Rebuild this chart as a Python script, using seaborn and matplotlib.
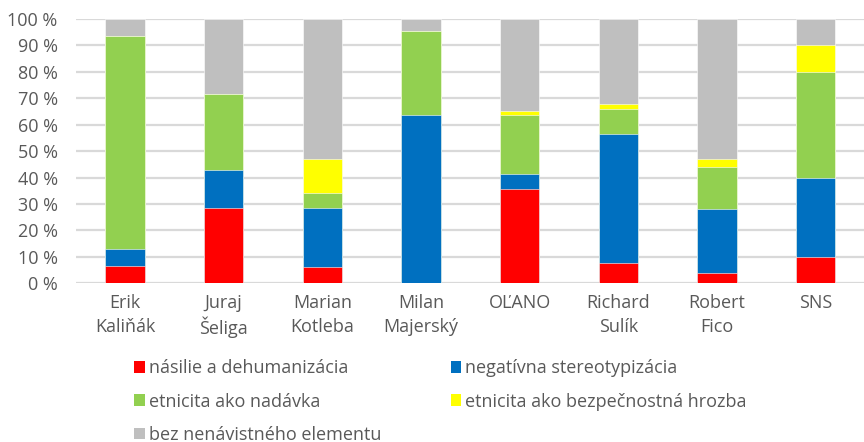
import pandas as pd
import matplotlib.pyplot as plt
import matplotlib.transforms as mtransforms
import seaborn as sns
from matplotlib.patches import Patch

# data (shares in %)
first_line = ["Erik", "Juraj", "Marian", "Milan", "OĽANO", "Richard", "Robert", "SNS"]
second_line = ["Kaliňák", "Šeliga", "Kotleba", "Majerský", "", "Sulík", "Fico", ""]
nasilie = [6.5, 28.6, 6.3, 0.0, 35.7, 7.6, 3.8, 10.0]
stereotyp = [6.6, 14.3, 22.3, 63.6, 5.8, 49.0, 24.2, 30.0]
nadavka = [80.3, 28.6, 5.7, 32.0, 22.3, 9.5, 15.9, 40.0]
hrozba = [0.0, 0.0, 12.7, 0.0, 1.4, 1.9, 3.1, 10.0]
bez = [6.6, 28.5, 53.0, 4.4, 34.8, 32.0, 53.0, 10.0]

series = ["násilie a dehumanizácia", "negatívna stereotypizácia", "etnicita ako nadávka",
          "etnicita ako bezpečnostná hrozba", "bez nenávistného elementu"]
colors = ["#ff0000", "#0070c0", "#92d050", "#ffff00", "#bfbfbf"]

df = pd.DataFrame({"osoba": first_line, series[0]: nasilie, series[1]: stereotyp,
                   series[2]: nadavka, series[3]: hrozba, series[4]: bez})
cum = df[series].cumsum(axis=1)
cum["osoba"] = df["osoba"]

sns.set_style("white")
plt.rcParams["font.family"] = ["Open Sans", "DejaVu Sans"]
txt = "#595959"
fs = 13

fig = plt.figure(figsize=(8.64, 4.42), dpi=100)
ax = fig.add_axes([75.7 / 864, (442 - 283.3) / 442, (865 - 75.7) / 864, (283.3 - 19) / 442])

# stacked bars: draw cumulative totals from top layer down
for name, col in reversed(list(zip(series, colors))):
    sns.barplot(data=cum, x="osoba", y=name, color=col, width=0.4, ax=ax,
                saturation=1, edgecolor="white", linewidth=0.4, zorder=3)

ax.set_ylim(0, 100)
ax.set_yticks(range(0, 101, 10))
ax.set_yticklabels([f"{v} %" for v in range(0, 101, 10)])
ax.set_xlabel("")
ax.set_ylabel("")
ax.grid(axis="y", color="#d9d9d9", linewidth=1.6, zorder=0)
ax.set_axisbelow(True)
for s in ax.spines.values():
    s.set_visible(False)
ax.tick_params(axis="both", length=0, labelsize=fs, colors=txt)
ax.tick_params(axis="y", pad=13)
ax.tick_params(axis="x", pad=8)

# second line of the category names
trans = mtransforms.blended_transform_factory(ax.transData, fig.transFigure)
for i, name in enumerate(second_line):
    ax.text(i, 1 - 327 / 442, name, transform=trans, ha="center", va="center",
            fontsize=fs, color=txt)

# legend filled row by row
order = [0, 2, 4, 1, 3]
handles = [Patch(facecolor=colors[i], edgecolor="none") for i in order]
labels = [series[i] for i in order]
fig.legend(handles, labels, loc="upper left", bbox_to_anchor=(127 / 864, 1 - 352 / 442),
           ncol=2, frameon=False, fontsize=fs, labelcolor=txt,
           handlelength=0.6, handleheight=0.6, handletextpad=0.2,
           columnspacing=3.85, labelspacing=0.85, borderaxespad=0)

fig.savefig("out.png", dpi=100)
